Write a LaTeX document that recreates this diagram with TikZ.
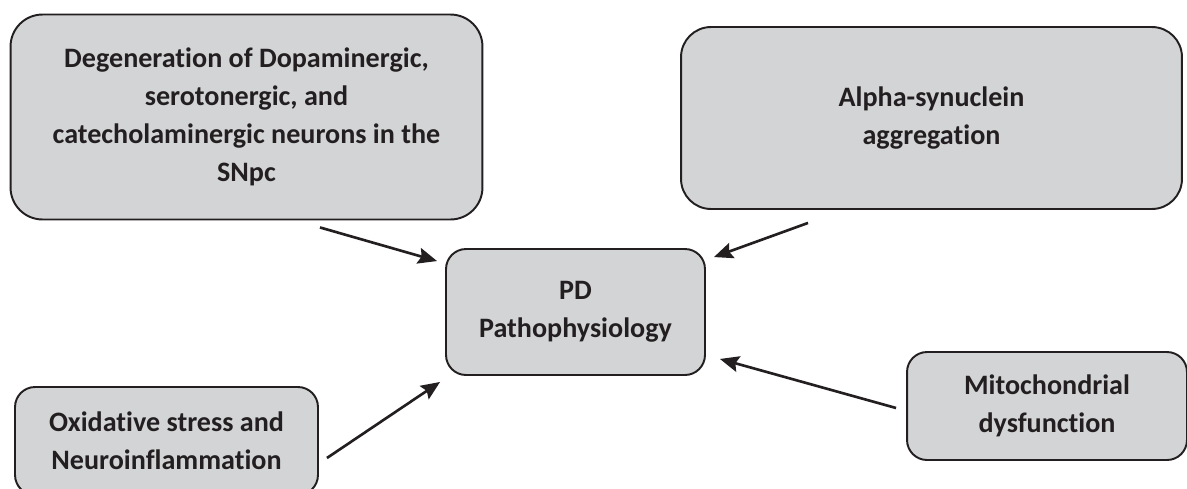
\documentclass[tikz,border=0pt]{standalone}
\usepackage{fontspec}
\setmainfont{Carlito}[Ligatures=NoCommon]
\usetikzlibrary{arrows.meta}
\definecolor{boxgray}{HTML}{D3D4D6}
\definecolor{inkdark}{HTML}{231F20}

\begin{document}
\begin{tikzpicture}[x=0.02cm,y=-0.02cm,
    box/.style={draw=inkdark,fill=boxgray,line width=1.1pt,rounded corners=0.4cm,
        align=center,text=inkdark,inner sep=0pt,
        font=\bfseries\fontsize{16}{21.6}\selectfont},
    arr/.style={draw=inkdark,line width=1.5pt,-{Stealth[length=0.38cm,width=0.32cm,inset=0.06cm]}}]
    \useasboundingbox (0,0) rectangle (1187,488);
    % boxes
    \node[box,rounded corners=0.64cm,minimum width=9.44cm,minimum height=4.1cm] (degen) at (246.5,117)
        {Degeneration of Dopaminergic,\\ serotonergic, and\\ catecholaminergic neurons in the\\ SNpc};
    \node[box,rounded corners=0.6cm,minimum width=10.02cm,minimum height=3.64cm] (alpha) at (931.5,118)
        {Alpha-synuclein\\ aggregation};
    \node[box,minimum width=5.18cm,minimum height=2.52cm] (pd) at (575.5,312)
        {PD\\ Pathophysiology};
    \node[box,minimum width=6.06cm,minimum height=2.16cm] (oxid) at (166.5,441)
        {Oxidative stress and\\ Neuroinflammation};
    \node[box,minimum width=5.6cm,minimum height=2.16cm] (mito) at (1047,406)
        {Mitochondrial\\ dysfunction};
    % arrows
    \draw[arr] ([xshift=1.47cm,yshift=-0.14cm]degen.south) -- ([xshift=-0.16cm,yshift=-0.26cm]pd.north west);
    \draw[arr] ([xshift=-2.47cm,yshift=-0.26cm]alpha.south) -- ([xshift=0.16cm,yshift=-0.18cm]pd.north east);
    \draw[arr] ([xshift=0.16cm,yshift=-0.34cm]oxid.east) -- ([xshift=-0.1cm,yshift=-0.12cm]pd.south west);
    \draw[arr] ([xshift=-0.2cm,yshift=-0.04cm]mito.west) -- ([xshift=0.28cm,yshift=0.34cm]pd.south east);
\end{tikzpicture}
\end{document}
